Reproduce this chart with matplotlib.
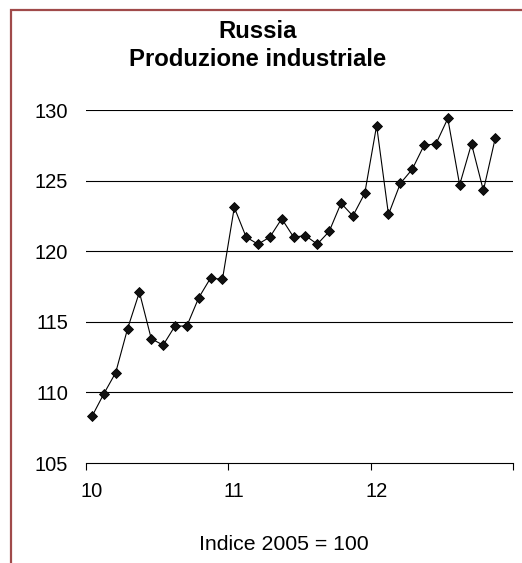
import numpy as np
import matplotlib
matplotlib.use("Agg")
import matplotlib.pyplot as plt
from matplotlib.patches import Rectangle

plt.rcParams['font.family'] = ['Liberation Sans', 'DejaVu Sans']

# produzione industriale mensile, gen 2010 - nov 2012
valori = [108.3, 109.9, 111.4, 114.5, 117.1, 113.8, 113.35, 114.7, 114.7, 116.7, 118.1, 118.0,
          123.1, 121.0, 120.5, 121.0, 122.3, 121.0, 121.1, 120.5, 121.4, 123.4, 122.5, 124.1,
          128.9, 122.6, 124.8, 125.8, 127.5, 127.6, 129.4, 124.7, 127.6, 124.3, 128.0]
anni = ['10', '11', '12']
mesi_per_anno = 12
y_ticks = [105, 110, 115, 120, 125, 130]

fs = 14.5
fig = plt.figure(figsize=(5.22, 5.63), dpi=100)
ax = fig.add_axes([0.1648, 0.1776, 0.818, 0.627])

x = np.arange(len(valori)) + 0.5
ax.plot(x, valori, color='black', lw=0.8, marker='D', ms=5.3,
        mfc='#111111', mec='black', mew=0.6, zorder=3)

n_cat = mesi_per_anno * len(anni)
ax.set_xlim(0, n_cat)
ax.set_ylim(105, 130)

for v in y_ticks[1:]:
    ax.axhline(v, color='black', lw=0.8, zorder=1)

ax.set_yticks(y_ticks)
ax.tick_params(axis='y', length=0, labelsize=fs, pad=13)
ax.set_xticks(np.arange(0, n_cat + 1, mesi_per_anno))
ax.set_xticks(np.arange(len(anni)) * mesi_per_anno + 0.5, minor=True)
ax.set_xticklabels([], minor=False)
ax.set_xticklabels(anni, minor=True)
ax.tick_params(axis='x', which='major', length=5, width=0.8, color='black')
ax.tick_params(axis='x', which='minor', length=0, labelsize=fs, pad=14)

for s in ['top', 'right', 'left']:
    ax.spines[s].set_visible(False)
ax.spines['bottom'].set_linewidth(0.8)

fig.text(0.494, 0.919, 'Russia\nProduzione industriale', ha='center', va='center',
         fontsize=17.2, fontweight='bold', linespacing=1.24)
fig.text(0.544, 0.032, 'Indice 2005 = 100', ha='center', va='center', fontsize=15.3)

# cornice rossa
top = 1 - 10 / 563
fig.patches.append(Rectangle((10.5 / 522, -0.1), 2, top + 0.1, transform=fig.transFigure,
                             fill=False, edgecolor='#a04a4a', lw=1.6))

fig.savefig('out.png', dpi=100)
